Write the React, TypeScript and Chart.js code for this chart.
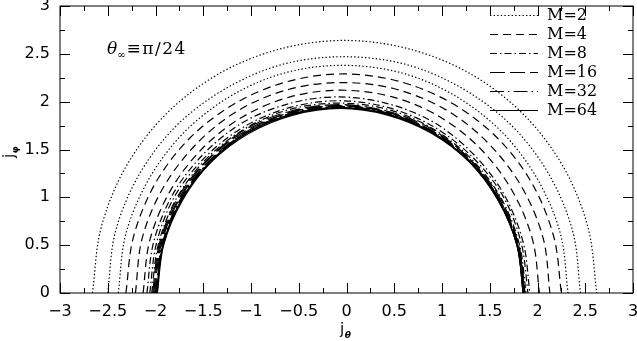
import React, { useEffect, useRef } from "react";
import { Chart, registerables } from "chart.js";

Chart.register(...registerables);

// ---- data ----
const SERIES_LABELS = ["M=2", "M=4", "M=8", "M=16", "M=32", "M=64"];
const X_MIN = -3;
const X_MAX = 3;
const Y_MIN = 0;
const Y_MAX = 3;
const MAJOR_STEP = 0.5;
const MINOR_STEP = 0.25;
const ANNOTATION = { symbol: "θ", sub: "∞", rest: "≡π/24" };
const X_TITLE = { main: "j", sub: "θ" };
const Y_TITLE = { main: "j", sub: "φ" };

// each curve: [j_theta, j_phi] points read along the arc
const M2_A = [[-2.66, 0], [-2.57, 0.68], [-2.31, 1.32], [-1.89, 1.87], [-1.34, 2.29], [-0.7, 2.55], [-0.02, 2.64], [0.66, 2.55], [1.3, 2.29], [1.85, 1.87], [2.27, 1.32], [2.53, 0.68], [2.62, 0]];
const M2_B = [[-2.5, 0], [-2.42, 0.64], [-2.17, 1.24], [-1.78, 1.75], [-1.26, 2.14], [-0.67, 2.39], [-0.03, 2.47], [0.62, 2.39], [1.21, 2.14], [1.73, 1.75], [2.12, 1.24], [2.37, 0.64], [2.45, 0]];
const M2_C = [[-2.39, 0], [-2.31, 0.62], [-2.07, 1.19], [-1.7, 1.68], [-1.21, 2.06], [-0.65, 2.3], [-0.04, 2.38], [0.58, 2.3], [1.14, 2.06], [1.63, 1.68], [2.0, 1.19], [2.24, 0.62], [2.32, 0]];
const M4_A = [[-2.31, 0], [-2.23, 0.59], [-2.0, 1.15], [-1.64, 1.62], [-1.17, 1.98], [-0.62, 2.21], [-0.03, 2.29], [0.56, 2.21], [1.11, 1.98], [1.58, 1.62], [1.94, 1.15], [2.17, 0.59], [2.25, 0]];
const M4_B = [[-2.21, 0], [-2.14, 0.57], [-1.92, 1.1], [-1.57, 1.56], [-1.13, 1.91], [-0.6, 2.13], [-0.04, 2.2], [0.52, 2.13], [1.05, 1.91], [1.49, 1.56], [1.84, 1.1], [2.06, 0.57], [2.13, 0]];
const M4_C = [[-2.13, 0], [-2.06, 0.55], [-1.85, 1.06], [-1.52, 1.5], [-1.09, 1.84], [-0.59, 2.05], [-0.06, 2.12], [0.48, 2.05], [0.98, 1.84], [1.41, 1.5], [1.74, 1.06], [1.95, 0.55], [2.02, 0]];
const M8_A = [[-2.09, 0], [-2.02, 0.53], [-1.82, 1.03], [-1.5, 1.45], [-1.09, 1.78], [-0.6, 1.98], [-0.09, 2.05], [0.43, 1.98], [0.92, 1.78], [1.33, 1.45], [1.65, 1.03], [1.85, 0.53], [1.92, 0]];
const M8_B = [[-2.06, 0], [-1.99, 0.52], [-1.8, 1.01], [-1.48, 1.42], [-1.07, 1.74], [-0.59, 1.94], [-0.08, 2.01], [0.43, 1.94], [0.91, 1.74], [1.32, 1.42], [1.64, 1.01], [1.83, 0.52], [1.9, 0]];
const M8_C = [[-2.04, 0], [-1.97, 0.51], [-1.78, 0.99], [-1.47, 1.4], [-1.06, 1.72], [-0.59, 1.92], [-0.08, 1.985], [0.43, 1.92], [0.9, 1.72], [1.31, 1.4], [1.62, 0.99], [1.81, 0.51], [1.88, 0]];
const M16_A = [[-2.03, 0], [-1.96, 0.51], [-1.77, 0.99], [-1.46, 1.39], [-1.06, 1.71], [-0.59, 1.9], [-0.08, 1.97], [0.43, 1.9], [0.9, 1.71], [1.3, 1.39], [1.61, 0.99], [1.8, 0.51], [1.87, 0]];
const M16_B = [[-2.02, 0], [-1.95, 0.51], [-1.76, 0.98], [-1.45, 1.39], [-1.05, 1.7], [-0.58, 1.89], [-0.08, 1.96], [0.43, 1.89], [0.89, 1.7], [1.3, 1.39], [1.6, 0.98], [1.8, 0.51], [1.865, 0]];
const M16_C = [[-2.01, 0], [-1.94, 0.51], [-1.75, 0.98], [-1.44, 1.38], [-1.04, 1.69], [-0.58, 1.89], [-0.08, 1.955], [0.43, 1.89], [0.89, 1.69], [1.29, 1.38], [1.6, 0.98], [1.79, 0.51], [1.86, 0]];
const M32_A = [[-2.0, 0], [-1.93, 0.51], [-1.74, 0.98], [-1.43, 1.38], [-1.04, 1.69], [-0.57, 1.88], [-0.07, 1.95], [0.43, 1.88], [0.9, 1.69], [1.29, 1.38], [1.6, 0.98], [1.79, 0.51], [1.86, 0]];
const M32_B = [[-1.995, 0], [-1.93, 0.5], [-1.74, 0.97], [-1.43, 1.38], [-1.03, 1.68], [-0.57, 1.88], [-0.07, 1.945], [0.43, 1.88], [0.89, 1.68], [1.29, 1.38], [1.6, 0.97], [1.79, 0.5], [1.855, 0]];
const M32_C = [[-1.99, 0], [-1.925, 0.5], [-1.73, 0.97], [-1.43, 1.37], [-1.03, 1.68], [-0.565, 1.87], [-0.07, 1.94], [0.43, 1.87], [0.89, 1.68], [1.29, 1.37], [1.6, 0.97], [1.79, 0.5], [1.855, 0]];
const M64_A = [[-1.99, 0], [-1.925, 0.5], [-1.73, 0.97], [-1.43, 1.37], [-1.03, 1.68], [-0.57, 1.87], [-0.07, 1.94], [0.43, 1.87], [0.89, 1.68], [1.29, 1.37], [1.59, 0.97], [1.785, 0.5], [1.85, 0]];
const M64_B = [[-1.985, 0], [-1.92, 0.5], [-1.73, 0.97], [-1.42, 1.37], [-1.03, 1.68], [-0.56, 1.87], [-0.07, 1.935], [0.43, 1.87], [0.89, 1.68], [1.29, 1.37], [1.59, 0.97], [1.785, 0.5], [1.85, 0]];
const M64_C = [[-1.98, 0], [-1.915, 0.5], [-1.72, 0.965], [-1.42, 1.365], [-1.02, 1.67], [-0.56, 1.86], [-0.065, 1.93], [0.43, 1.86], [0.89, 1.67], [1.29, 1.365], [1.59, 0.965], [1.785, 0.5], [1.85, 0]];

const GROUPS = [
  [M2_A, M2_B, M2_C],
  [M4_A, M4_B, M4_C],
  [M8_A, M8_B, M8_C],
  [M16_A, M16_B, M16_C],
  [M32_A, M32_B, M32_C],
  [M64_A, M64_B, M64_C],
];

// ---- styles ----
const DASHES: number[][] = [
  [1.4, 2.2],
  [8, 5],
  [7, 3, 1.5, 3],
  [15, 5],
  [14, 4, 1.5, 4],
  [],
];
const LINE_WIDTH = 1.2;
const INK = "#000";

function fmt(v: number): string {
  const s = String(Math.round(v * 100) / 100);
  return s.replace("-", "\u2212");
}

const overlayPlugin = {
  id: "overlay",
  afterDatasetsDraw(chart: any) {
    const { ctx, chartArea } = chart;
    const xs = chart.scales.x;
    const ys = chart.scales.y;
    const L = chartArea.left, R = chartArea.right, T = chartArea.top, B = chartArea.bottom;
    ctx.save();
    ctx.strokeStyle = INK;
    ctx.lineWidth = 1;
    ctx.setLineDash([]);
    ctx.strokeRect(L, T, R - L, B - T);
    // ticks on all four sides, pointing inward
    ctx.beginPath();
    const nx = Math.round((X_MAX - X_MIN) / MINOR_STEP);
    for (let i = 0; i <= nx; i++) {
      const v = X_MIN + i * MINOR_STEP;
      const major = Math.abs(v / MAJOR_STEP - Math.round(v / MAJOR_STEP)) < 1e-6;
      const len = major ? 10 : 5;
      const px = Math.round(xs.getPixelForValue(v)) + 0.5;
      ctx.moveTo(px, B); ctx.lineTo(px, B - len);
      ctx.moveTo(px, T); ctx.lineTo(px, T + len);
    }
    const ny = Math.round((Y_MAX - Y_MIN) / MINOR_STEP);
    for (let i = 0; i <= ny; i++) {
      const v = Y_MIN + i * MINOR_STEP;
      const major = Math.abs(v / MAJOR_STEP - Math.round(v / MAJOR_STEP)) < 1e-6;
      const len = major ? 10 : 5;
      const py = Math.round(ys.getPixelForValue(v)) + 0.5;
      ctx.moveTo(L, py); ctx.lineTo(L + len, py);
      ctx.moveTo(R, py); ctx.lineTo(R - len, py);
    }
    ctx.stroke();

    // legend (top right)
    SERIES_LABELS.forEach((label, i) => {
      const y = 15 + i * 19;
      ctx.strokeStyle = INK;
      ctx.lineWidth = LINE_WIDTH;
      ctx.setLineDash(DASHES[i]);
      ctx.beginPath();
      ctx.moveTo(490, y + 0.5);
      ctx.lineTo(538, y + 0.5);
      ctx.stroke();
      ctx.setLineDash([]);
      ctx.fillStyle = INK;
      ctx.font = "16px 'DejaVu Serif'";
      ctx.textAlign = "left";
      ctx.textBaseline = "middle";
      ctx.fillText(label, 547, y + 1);
    });

    // annotation θ∞ ≡ π/24
    ctx.fillStyle = INK;
    ctx.textBaseline = "alphabetic";
    ctx.textAlign = "left";
    let x = 107;
    ctx.font = "italic 17px 'DejaVu Serif'";
    ctx.fillText(ANNOTATION.symbol, x, 54);
    x += ctx.measureText(ANNOTATION.symbol).width;
    ctx.font = "10px 'DejaVu Serif'";
    ctx.fillText(ANNOTATION.sub, x, 58);
    x += ctx.measureText(ANNOTATION.sub).width + 1;
    ctx.font = "17px 'DejaVu Serif'";
    (ctx as any).letterSpacing = "1.5px";
    ctx.fillText(ANNOTATION.rest, x, 54);
    (ctx as any).letterSpacing = "0px";

    // x axis title j_θ
    ctx.font = "15px 'DejaVu Sans'";
    ctx.fillText(X_TITLE.main, 340, 334);
    const tx = 340 + ctx.measureText(X_TITLE.main).width + 0.5;
    ctx.font = "bold italic 9px 'DejaVu Sans'";
    ctx.fillText(X_TITLE.sub, tx, 338);

    // y axis title j_φ (rotated)
    ctx.save();
    ctx.translate(14, 158);
    ctx.rotate(-Math.PI / 2);
    ctx.font = "15px 'DejaVu Sans'";
    ctx.fillText(Y_TITLE.main, 0, 0);
    const w = ctx.measureText(Y_TITLE.main).width + 0.5;
    ctx.font = "bold 9px 'DejaVu Sans'";
    ctx.fillText(Y_TITLE.sub, w, 4);
    ctx.restore();

    ctx.restore();
  },
};

export default function App() {
  const ref = useRef<HTMLCanvasElement | null>(null);
  useEffect(() => {
    if (!ref.current) return;
    Chart.defaults.font.family = "'DejaVu Sans', sans-serif";
    Chart.defaults.font.size = 16;
    Chart.defaults.color = INK;
    const datasets: any[] = [];
    GROUPS.forEach((group, gi) => {
      group.forEach((curve, ci) => {
        datasets.push({
          label: ci === 0 ? SERIES_LABELS[gi] : SERIES_LABELS[gi] + "_" + ci,
          data: curve.map(([x, y]) => ({ x, y })),
          showLine: true,
          borderColor: INK,
          borderWidth: LINE_WIDTH,
          borderDash: DASHES[gi],
          pointRadius: 0,
          pointHoverRadius: 0,
          fill: false,
          tension: 0.33,
        });
      });
    });
    const chart = new Chart(ref.current, {
      type: "scatter",
      data: { datasets },
      options: {
        animation: false,
        responsive: true,
        maintainAspectRatio: false,
        events: [],
        layout: { padding: { top: 6, right: 4, left: 0, bottom: 0 } },
        plugins: { legend: { display: false }, tooltip: { enabled: false } },
        scales: {
          x: {
            type: "linear",
            min: X_MIN,
            max: X_MAX,
            grid: { display: false, drawTicks: false },
            border: { display: false },
            ticks: {
              stepSize: MAJOR_STEP,
              autoSkip: false,
              maxRotation: 0,
              padding: 9,
              color: INK,
              callback: (v: any) => fmt(Number(v)),
            },
            afterFit: (s: any) => {
              s.height = 48;
              s.paddingLeft = 0;
              s.paddingRight = 0;
            },
          },
          y: {
            type: "linear",
            min: Y_MIN,
            max: Y_MAX,
            grid: { display: false, drawTicks: false },
            border: { display: false },
            ticks: {
              stepSize: MAJOR_STEP,
              autoSkip: false,
              padding: 10,
              color: INK,
              callback: (v: any) => fmt(Number(v)),
            },
            afterFit: (s: any) => {
              s.width = 60;
              s.paddingTop = 0;
              s.paddingBottom = 0;
            },
          },
        },
      },
      plugins: [overlayPlugin],
    });
    return () => chart.destroy();
  }, []);
  return (
    <div style={{ position: "fixed", left: 0, top: 0, width: 637, height: 341, background: "#fff" }}>
      <canvas ref={ref} />
    </div>
  );
}
